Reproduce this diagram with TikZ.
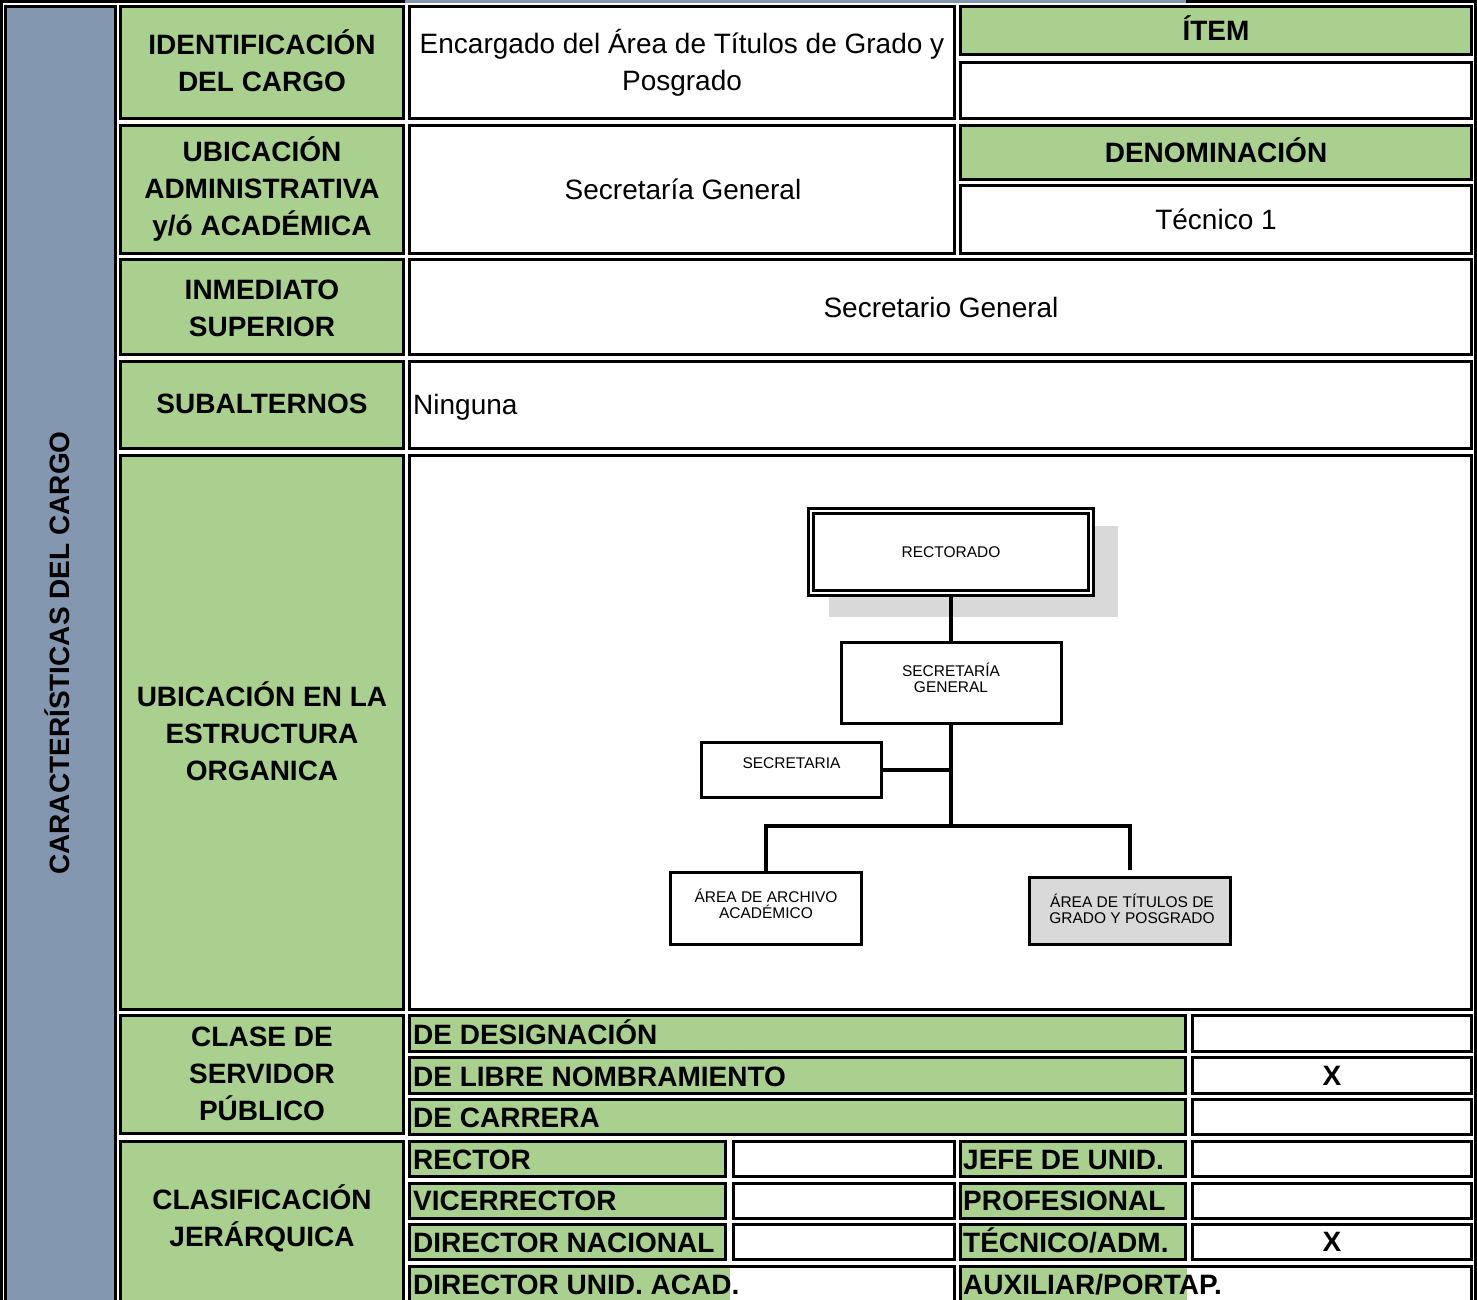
\documentclass[tikz,border=0pt]{standalone}
\usepackage{fontspec}
\setmainfont{Liberation Sans}
\usetikzlibrary{positioning}
\definecolor{cellgreen}{RGB}{169,208,142}
\definecolor{sidegray}{RGB}{132,151,176}
\definecolor{shadegray}{RGB}{217,217,217}
\tikzset{
	greencell/.style={draw=black, line width=3pt, fill=cellgreen},
	whitecell/.style={draw=black, line width=3pt, fill=white},
	head/.style={font=\fontsize{28}{37}\selectfont\bfseries, align=center},
	plain/.style={font=\fontsize{28}{37}\selectfont, align=center},
	rowtext/.style={font=\fontsize{28}{37}\selectfont\bfseries, anchor=west, inner sep=0pt, text height=20pt, text depth=0pt},
	valtext/.style={font=\fontsize{28}{37}\selectfont, anchor=west, inner sep=0pt, text height=20pt, text depth=0pt},
	orgbox/.style={draw=black, line width=3pt, fill=white, font=\fontsize{15.5}{16}\selectfont, align=center},
	orglabel/.style={font=\fontsize{15.5}{16}\selectfont, align=center},
	orgline/.style={line width=3.5pt},
}

\begin{document}
\begin{tikzpicture}[x=1pt, y=-1pt]
			%%%%% START %%%%%
			
			\useasboundingbox (0, 0) rectangle (1477, 1300);
			\clip (0, 0) rectangle (1477, 1300);
			
			\draw[line width=2.6pt] (1.3, 0) -- (1.3, 1300);
			\draw[line width=2.6pt] (1475.7, 0) -- (1475.7, 1300);
			\draw[line width=2.6pt] (0, 1.3) -- (405, 1.3);
			\draw[line width=2.6pt, color=sidegray] (405, 1.3) -- (1186, 1.3);
			\draw[line width=2.6pt] (1186, 1.3) -- (1477, 1.3);
			
			\draw[line width=3pt, fill=sidegray] (5.5, 7) rectangle (115.5, 1310);
			\node[head, rotate=90] (side) at (57.5, 653) {CARACTERÍSTICAS DEL CARGO};
			
			\draw[greencell] (120.5, 7) rectangle (403.5, 118.5);
			\node[head] (idlab) at (262, 61) {IDENTIFICACIÓN\\DEL CARGO};
			\draw[whitecell] (409, 7) rectangle (954, 118.5);
			\node[plain] (idval) at (682, 62.5) {Encargado del Área de Títulos de Grado y\\Posgrado};
			\draw[greencell] (960.5, 7) rectangle (1471.5, 55);
			\node[head] (itemlab) at (1216, 28) {ÍTEM};
			\draw[whitecell] (960.5, 63) rectangle (1471.5, 118.5);
			
			\draw[greencell] (120.5, 125.5) rectangle (403.5, 253.5);
			\node[head] (ubilab) at (262, 189) {UBICACIÓN\\ADMINISTRATIVA\\y/ó ACADÉMICA};
			\draw[whitecell] (409, 125.5) rectangle (954, 253.5);
			\node[plain] (ubival) at (683, 189) {Secretaría General};
			\draw[greencell] (960.5, 125.5) rectangle (1471.5, 179.5);
			\node[head] (denlab) at (1216, 150) {DENOMINACIÓN};
			\draw[whitecell] (960.5, 185.5) rectangle (1471.5, 253.5);
			\node[plain] (denval) at (1216, 219) {Técnico 1};
			
			\draw[greencell] (120.5, 259.5) rectangle (403.5, 354.5);
			\node[head] (suplab) at (262, 308) {INMEDIATO\\SUPERIOR};
			\draw[whitecell] (409, 259.5) rectangle (1471.5, 354.5);
			\node[plain] (supval) at (941, 307) {Secretario General};
			
			\draw[greencell] (120.5, 361.5) rectangle (403.5, 448.5);
			\node[head] (sublab) at (262, 404) {SUBALTERNOS};
			\draw[whitecell] (409, 361.5) rectangle (1471.5, 448.5);
			\node[valtext] (subval) at (413, 404) {Ninguna};
			
			\draw[greencell] (120.5, 455.5) rectangle (403.5, 1009.5);
			\node[head] (estlab) at (262, 731) {UBICACIÓN EN LA\\ESTRUCTURA\\ORGANICA};
			\draw[whitecell] (409, 455.5) rectangle (1471.5, 1009.5);
			
			% organigrama
			\fill[shadegray] (829, 526) rectangle (1118, 617);
			\node[orgbox, double, double distance=2pt, line width=2.8pt, minimum width=280pt, minimum height=82pt] (rect) at (951, 552) {RECTORADO};
			\node[orgbox, minimum width=220pt, minimum height=81pt, label={[orglabel, yshift=5.5pt]center:SECRETARÍA\\GENERAL}] (secgen) at (951, 683) {};
			\node[orgbox, minimum width=180pt, minimum height=55pt, text depth=14pt] (sec) at (791.5, 770) {SECRETARIA};
			\node[orgbox, minimum width=191pt, minimum height=72pt, label={[orglabel, yshift=5pt]center:ÁREA DE ARCHIVO\\ACADÉMICO}] (archivo) at (766, 908.5) {};
			\node[orgbox, fill=shadegray, minimum width=201pt, minimum height=67pt, label={[orglabel, yshift=2pt, xshift=2pt]center:ÁREA DE TÍTULOS DE\\GRADO Y POSGRADO}] (titulos) at (1130, 911) {};
			
			\coordinate (fork) at (951, 826);
			\draw[orgline] (rect.south) -- (secgen.north);
			\draw[orgline] (secgen.south) -- (secgen.south |- fork);
			\draw[orgline] (sec.east) -- (sec.east -| secgen.south);
			\draw[orgline] (archivo.north) -- (archivo.north |- fork) -- (titulos.north |- fork) -- ([yshift=6.5pt]titulos.north);
			
			\draw[greencell] (120.5, 1015.5) rectangle (403.5, 1133.5);
			\node[head] (claselab) at (262, 1073.5) {CLASE DE\\SERVIDOR\\PÚBLICO};
			\draw[greencell] (409.5, 1015.5) rectangle (1185.5, 1051);
			\draw[whitecell] (1192, 1015.5) rectangle (1471.5, 1051);
			\node[rowtext] (desig) at (413, 1034) {DE DESIGNACIÓN};
			\draw[greencell] (409.5, 1057.5) rectangle (1185.5, 1093);
			\draw[whitecell] (1192, 1057.5) rectangle (1471.5, 1093);
			\node[rowtext] (libre) at (413, 1076) {DE LIBRE NOMBRAMIENTO};
			\node[head] (libremark) at (1332, 1076) {X};
			\draw[greencell] (409.5, 1099.5) rectangle (1185.5, 1134.5);
			\draw[whitecell] (1192, 1099.5) rectangle (1471.5, 1134.5);
			\node[rowtext] (carrera) at (413, 1117) {DE CARRERA};
			
			\draw[greencell] (120.5, 1141) rectangle (403.5, 1310);
			\node[head] (jerlab) at (262, 1218.5) {CLASIFICACIÓN\\JERÁRQUICA};
			
			\draw[greencell] (409.5, 1141.5) rectangle (725.5, 1176);
			\draw[whitecell] (733, 1141.5) rectangle (954, 1176);
			\draw[greencell] (960.5, 1141.5) rectangle (1185.5, 1176);
			\draw[whitecell] (1192, 1141.5) rectangle (1471.5, 1176);
			\node[rowtext] (rector) at (413, 1159) {RECTOR};
			\node[rowtext] (jefe) at (963, 1159) {JEFE DE UNID.};
			
			\draw[greencell] (409.5, 1183) rectangle (725.5, 1218);
			\draw[whitecell] (733, 1183) rectangle (954, 1218);
			\draw[greencell] (960.5, 1183) rectangle (1185.5, 1218);
			\draw[whitecell] (1192, 1183) rectangle (1471.5, 1218);
			\node[rowtext] (vice) at (413, 1200) {VICERRECTOR};
			\node[rowtext] (prof) at (963, 1200) {PROFESIONAL};
			
			\draw[greencell] (409.5, 1224) rectangle (725.5, 1259.5);
			\draw[whitecell] (733, 1224) rectangle (954, 1259.5);
			\draw[greencell] (960.5, 1224) rectangle (1185.5, 1259.5);
			\draw[whitecell] (1192, 1224) rectangle (1471.5, 1259.5);
			\node[rowtext] (dirnac) at (413, 1242) {DIRECTOR NACIONAL};
			\node[rowtext] (tecnico) at (963, 1242) {TÉCNICO/ADM.};
			\node[head] (tecmark) at (1332, 1242) {X};
			
			\fill[cellgreen] (409.5, 1266) rectangle (730, 1310);
			\draw[line width=3pt] (409.5, 1310) -- (409.5, 1266) -- (954, 1266) -- (954, 1310);
			\node[rowtext] (dirunid) at (413, 1284) {DIRECTOR UNID. ACAD.};
			\fill[cellgreen] (960.5, 1266) rectangle (1187, 1310);
			\draw[line width=3pt] (960.5, 1310) -- (960.5, 1266) -- (1471.5, 1266) -- (1471.5, 1310);
			\node[rowtext] (auxiliar) at (963, 1284) {AUXILIAR/PORTAP.};
			
			%%%%% END %%%%%
\end{tikzpicture}
\end{document}
